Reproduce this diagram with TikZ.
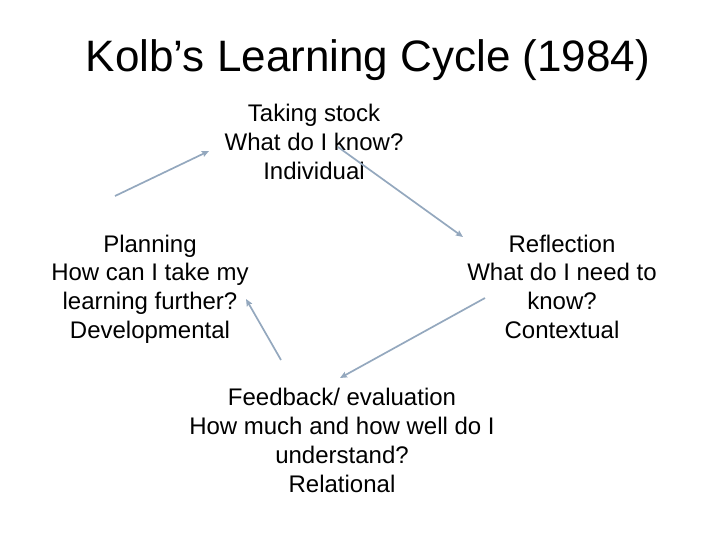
\documentclass[tikz,border=0pt]{standalone}
\usepackage{fontspec}
\setmainfont{Liberation Sans}
\usetikzlibrary{arrows.meta}
\definecolor{arrowblue}{RGB}{148,168,190}
\tikzset{
  body/.style={align=center, inner sep=0pt, font=\fontsize{24}{28.8}\selectfont,
    execute at begin node=\strut, execute at end node=\strut},
  cyclearrow/.style={draw=arrowblue, line width=1.7pt,
    -{Stealth[length=7pt,width=6pt,inset=1pt]}},
}
\begin{document}
\begin{tikzpicture}[x=1pt,y=-1pt]
\useasboundingbox (0,0) rectangle (720,540);
\node[anchor=base, inner sep=0pt, font=\fontsize{44}{52}\selectfont] (title) at (368,72) {Kolb’s Learning Cycle (1984)};
\node[body] (stock) at (314,146) {Taking stock\\What do I know?\\Individual};
\node[body] (plan) at (150,291) {Planning\\How can I take my\\learning further?\\Developmental};
\node[body] (refl) at (562,291) {Reflection\\What do I need to\\know?\\Contextual};
\node[body] (feed) at (342,444.5) {Feedback/ evaluation\\How much and how well do I\\understand?\\Relational};
\coordinate (a1s) at (115,196);
\coordinate (a1e) at (209,151);
\coordinate (a2s) at (338,147);
\coordinate (a2e) at (463,237);
\coordinate (a3s) at (485,298);
\coordinate (a3e) at (340,378);
\coordinate (a4s) at (281,360);
\coordinate (a4e) at (246,299);
\draw[cyclearrow] (a1s) -- (a1e);
\draw[cyclearrow] (a2s) -- (a2e);
\draw[cyclearrow] (a3s) -- (a3e);
\draw[cyclearrow] (a4s) -- (a4e);
\end{tikzpicture}
\end{document}
